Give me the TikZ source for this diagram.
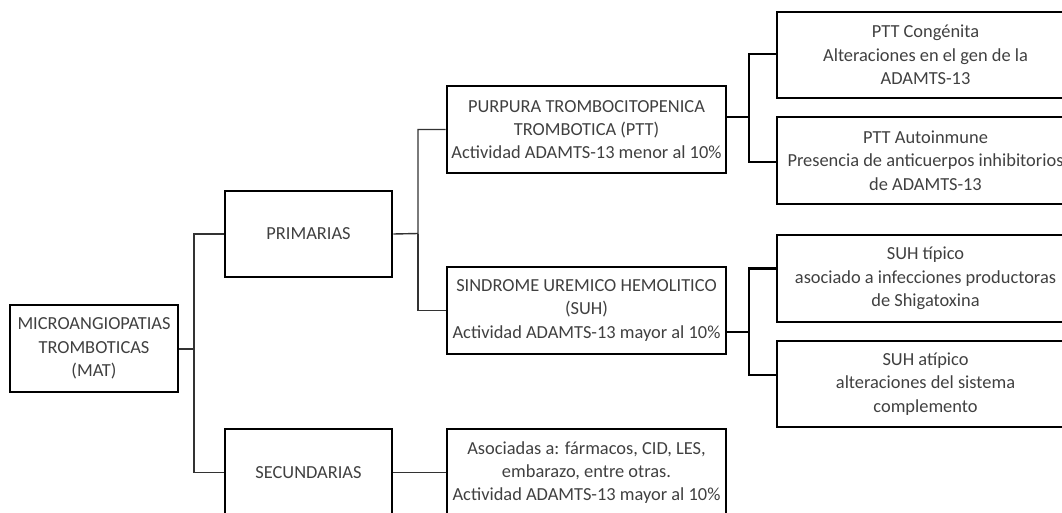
\documentclass[tikz,border=0pt]{standalone}
\usepackage{fontspec}
\setmainfont{Carlito}
\definecolor{txtgray}{HTML}{404040}
\tikzset{
  caja/.style={draw, line width=2.6pt, align=center, inner sep=1pt,
    text=txtgray, font=\fontsize{18.4}{23.3}\selectfont},
  fino/.style={line width=1.4pt, draw=black!80},
  grueso/.style={line width=2.6pt},
}
\begin{document}
\begin{tikzpicture}[x=1pt, y=-1pt]
\useasboundingbox (0,0) rectangle (1062,513);
\clip (0,0) rectangle (1062,513);

% first level
\node[caja, minimum width=168pt, minimum height=87pt] (mat) at (94,348.5)
  {MICROANGIOPATIAS\\TROMBOTICAS\\(MAT)};

% second level
\node[caja, minimum width=167pt, minimum height=86pt] (prim) at (308.5,234) {PRIMARIAS};
\node[caja, minimum width=167pt, minimum height=87pt] (sec) at (308.5,472.5) {SECUNDARIAS};

% third level
\node[caja, minimum width=279pt, minimum height=87pt] (ptt) at (586.5,129.5)
  {PURPURA TROMBOCITOPENICA\\TROMBOTICA (PTT)\\Actividad ADAMTS-13 menor al 10\%};
\node[caja, minimum width=279pt, minimum height=87pt] (suh) at (586.5,310.5)
  {SINDROME UREMICO HEMOLITICO\\(SUH)\\Actividad ADAMTS-13 mayor al 10\%};
\node[caja, minimum width=279pt, minimum height=87pt] (aso) at (586.5,472.5)
  {Asociadas a: fármacos, CID, LES,\\embarazo, entre otras.\\Actividad ADAMTS-13 mayor al 10\%};

% fourth level
\node[caja, minimum width=297pt, minimum height=86pt] (cong) at (925.5,55)
  {PTT Congénita\\Alteraciones en el gen de la\\ADAMTS-13};
\node[caja, minimum width=297pt, minimum height=87pt] (auto) at (925.5,160.5)
  {PTT Autoinmune\\Presencia de anticuerpos inhibitorios\\de ADAMTS-13};
\node[caja, minimum width=297pt, minimum height=87pt] (tip) at (925.5,278.5)
  {SUH típico\\asociado a infecciones productoras\\de Shigatoxina};
\node[caja, minimum width=297pt, minimum height=86pt] (atip) at (925.5,384)
  {SUH atípico\\alteraciones del sistema\\complemento};

% junctions
\coordinate (j1) at (194,349);
\coordinate (j2) at (418,233.5);
\coordinate (j3) at (749,117);
\coordinate (j4) at (749,332);

\draw[fino] (mat.east |- j1) -- (j1) |- (prim.west);
\draw[fino] (j1) |- (sec.west);
\draw[fino] (prim.east) -- (j2) |- (ptt.west);
\draw[fino] (j2) |- (suh.west);
\draw[fino] (sec.east) -- (aso.west);

\draw[grueso] (ptt.east |- j3) -- (j3) |- ([yshift=1pt]cong.west);
\draw[grueso] (j3) |- ([yshift=-1.5pt]auto.west);
\draw[grueso] (suh.east |- j4) -- (j4) |- ([yshift=10pt]tip.west);
\draw[grueso] (j4) |- ([yshift=9pt]atip.west);
\end{tikzpicture}
\end{document}
